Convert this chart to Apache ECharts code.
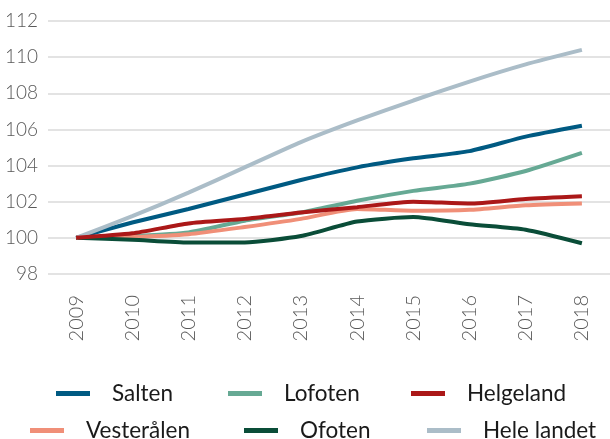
<!DOCTYPE html>
<html>
<head>
<meta charset="utf-8">
<script src="https://cdn.jsdelivr.net/npm/echarts@6/dist/echarts.min.js"></script>
<style>
  html, body { margin: 0; padding: 0; background: #fff; }
  #chart { width: 610px; height: 439px; }
</style>
</head>
<body>
<div id="chart"></div>
<script>
const years = ['2009', '2010', '2011', '2012', '2013', '2014', '2015', '2016', '2017', '2018']

const salten = [100, 100.85, 101.6, 102.4, 103.2, 103.9, 104.4, 104.8, 105.6, 106.2]
const lofoten = [100, 100.1, 100.3, 100.95, 101.4, 102.05, 102.6, 103.0, 103.7, 104.7]
const helgeland = [100, 100.25, 100.8, 101.05, 101.4, 101.7, 102.0, 101.9, 102.15, 102.3]
const vesteralen = [100, 100.05, 100.2, 100.6, 101.05, 101.6, 101.5, 101.55, 101.8, 101.9]
const ofoten = [100, 99.9, 99.75, 99.75, 100.1, 100.9, 101.15, 100.75, 100.45, 99.7]
const heleLandet = [100, 101.2, 102.5, 103.9, 105.3, 106.5, 107.6, 108.65, 109.6, 110.4]

const seriesDefs = [
  { name: 'Salten', data: salten, color: '#005a82' },
  { name: 'Lofoten', data: lofoten, color: '#66a994' },
  { name: 'Helgeland', data: helgeland, color: '#ab1818', z: 4 },
  { name: 'Vesterålen', data: vesteralen, color: '#f08f78' },
  { name: 'Ofoten', data: ofoten, color: '#0a4d38' },
  { name: 'Hele landet', data: heleLandet, color: '#abbdc8' }
]

// legend placement, one legend per item
const legendPos = [
  { name: 'Salten', left: 56, top: 382 },
  { name: 'Lofoten', left: 228, top: 382 },
  { name: 'Helgeland', left: 411, top: 382 },
  { name: 'Vesterålen', left: 30, top: 419 },
  { name: 'Ofoten', left: 244, top: 419 },
  { name: 'Hele landet', left: 427, top: 419 }
]

const fontFamily = 'Lato, "Noto Sans", sans-serif'

const chart = echarts.init(document.getElementById('chart'))

chart.setOption({
  animation: false,
  textStyle: { fontFamily },
  grid: { left: 48, right: 0, top: 21, bottom: 165, containLabel: false },
  xAxis: {
    type: 'category',
    data: years,
    boundaryGap: true,
    axisLine: { show: false },
    axisTick: { show: false },
    axisLabel: {
      rotate: 90,
      margin: 21,
      fontSize: 20,
      color: '#595959',
      fontWeight: 300
    }
  },
  yAxis: {
    type: 'value',
    min: 98,
    max: 112,
    interval: 2,
    axisLine: { show: false },
    axisTick: { show: false },
    axisLabel: { fontSize: 19, color: '#595959', margin: 10, fontWeight: 300 },
    splitLine: { lineStyle: { color: '#dadada', width: 1.5 } }
  },
  legend: legendPos.map(l => ({
    data: [l.name],
    left: l.left,
    top: l.top,
    icon: 'rect',
    itemWidth: 34,
    itemHeight: 5,
    padding: 0,
    selectedMode: false,
    textStyle: { fontSize: 22.5, color: '#1a1a1a', padding: [0, 0, 0, 17] }
  })),
  series: seriesDefs.map(s => ({
    name: s.name,
    type: 'line',
    data: s.data,
    z: s.z || 2,
    smooth: 0.2,
    showSymbol: false,
    symbol: 'none',
    color: s.color,
    lineStyle: { width: 4, color: s.color }
  }))
})
</script>
</body>
</html>
